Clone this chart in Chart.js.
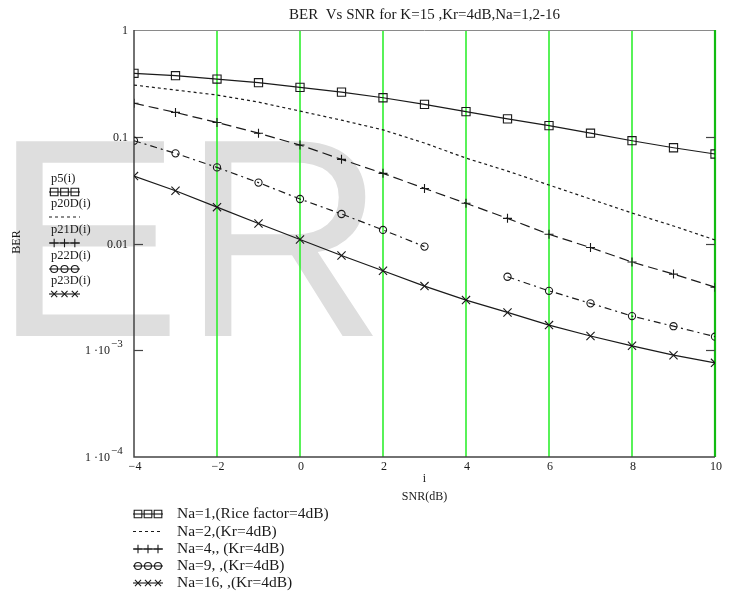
<!DOCTYPE html>
<html><head><meta charset="utf-8">
<script src="https://cdn.jsdelivr.net/npm/chart.js@4.4.1/dist/chart.umd.min.js"></script>
<style>html,body{margin:0;padding:0;background:#fff}canvas{display:block}</style>
</head><body>
<canvas id="c" width="732" height="592"></canvas>
<script>
// ---- data ----
const snr = [-4, -3, -2, -1, 0, 1, 2, 3, 4, 5, 6, 7, 8, 9, 10];
const berNa1  = [0.393, 0.373, 0.347, 0.321, 0.290, 0.262, 0.232, 0.201, 0.172, 0.147, 0.127, 0.108, 0.0918, 0.0789, 0.0689];
const berNa2  = [0.305, 0.274, 0.246, 0.211, 0.174, 0.143, 0.116, 0.0873, 0.0631, 0.0477, 0.0353, 0.0261, 0.0193, 0.0146, 0.0108];
const berNa4  = [0.206, 0.169, 0.136, 0.108, 0.0836, 0.0614, 0.0454, 0.0328, 0.0238, 0.0172, 0.0122, 0.00916, 0.00670, 0.00517, 0.00390];
const berNa9  = [0.0918, 0.0699, 0.0516, 0.0372, 0.0261, 0.0189, 0.0134, 0.00935, null, 0.00488, 0.00360, 0.00275, 0.00209, 0.00168, 0.00134];
const berNa16 = [0.0428, 0.0312, 0.0219, 0.0154, 0.0109, 0.00773, 0.00555, 0.00399, 0.00295, 0.00226, 0.00172, 0.00136, 0.00110, 0.000899, 0.000762];

const xTickValues = [-4, -2, 0, 2, 4, 6, 8, 10];
const xTickLabels = ['\u22124', '\u22122', '0', '2', '4', '6', '8', '10'];
const yTickValues = [1, 0.1, 0.01, 0.001, 0.0001];
const yTickLabels = [['1', ''], ['0.1', ''], ['0.01', ''], ['1 \u00b710', '\u22123'], ['1 \u00b710', '\u22124']];
const legendNames = ['Na=1,(Rice factor=4dB)', 'Na=2,(Kr=4dB)', 'Na=4,, (Kr=4dB)', 'Na=9, ,(Kr=4dB)', 'Na=16, ,(Kr=4dB)'];
const innerLegendNames = ['p5(i)', 'p20D(i)', 'p21D(i)', 'p22D(i)', 'p23D(i)'];
const titleText = 'BER  Vs SNR for K=15 ,Kr=4dB,Na=1,2-16';
const xTitle = 'SNR(dB)';
const xIndexLabel = 'i';
const yTitle = 'BER';
const watermark = 'ER';

// ---- styles ----
const LINE = '#1a1a1a';
const SERIF = '"Liberation Serif", "Times New Roman", serif';
const styles = [
  {dash: [], point: 'rect', r: 5.8},
  {dash: [3, 3], point: false, r: 0},
  {dash: [10, 5], point: 'cross', r: 4.5},
  {dash: [7, 4, 2, 4], point: 'circle', r: 3.6},
  {dash: [], point: 'crossRot', r: 5.8}
];
const series = [berNa1, berNa2, berNa4, berNa9, berNa16];

const datasets = series.map((arr, k) => ({
  label: legendNames[k],
  data: snr.map((x, i) => ({x: x, y: arr[i]})),
  borderColor: LINE,
  borderWidth: 1.2,
  borderDash: styles[k].dash,
  pointStyle: styles[k].point || 'circle',
  pointRadius: styles[k].point ? styles[k].r : 0,
  pointHoverRadius: styles[k].point ? styles[k].r : 0,
  pointBorderColor: LINE,
  pointBackgroundColor: 'rgba(0,0,0,0)',
  pointBorderWidth: 1.1,
  tension: 0,
  spanGaps: false,
  fill: false
}));

function drawSym(ctx, style, x, y, r) {
  ctx.save();
  ctx.setLineDash([]);
  ctx.strokeStyle = LINE;
  ctx.lineWidth = 1.1;
  ctx.beginPath();
  if (style === 'rect') {
    const s = Math.SQRT1_2 * r;
    ctx.rect(x - s, y - s, 2 * s, 2 * s);
  } else if (style === 'circle') {
    ctx.arc(x, y, r, 0, Math.PI * 2);
  } else if (style === 'cross') {
    ctx.moveTo(x - r, y); ctx.lineTo(x + r, y);
    ctx.moveTo(x, y - r); ctx.lineTo(x, y + r);
  } else if (style === 'crossRot') {
    const s = Math.SQRT1_2 * r;
    ctx.moveTo(x - s, y - s); ctx.lineTo(x + s, y + s);
    ctx.moveTo(x - s, y + s); ctx.lineTo(x + s, y - s);
  }
  ctx.stroke();
  ctx.restore();
}

function drawLegendSample(ctx, k, x0, x1, y) {
  ctx.save();
  ctx.strokeStyle = LINE;
  ctx.lineWidth = 1.1;
  ctx.setLineDash(styles[k].point ? [] : styles[k].dash);
  ctx.beginPath(); ctx.moveTo(x0, y); ctx.lineTo(x1, y); ctx.stroke();
  ctx.restore();
  if (styles[k].point) {
    const step = (x1 - x0) / 3;
    for (let j = 0; j < 3; j++) drawSym(ctx, styles[k].point, x0 + step * (j + 0.5), y, k === 0 ? 5.4 : (k === 3 ? 3.5 : 4.3));
  }
}

const decor = {
  id: 'decor',
  beforeDatasetsDraw(chart) {
    const ctx = chart.ctx;
    const a = chart.chartArea;
    const xs = chart.scales.x, ys = chart.scales.y;
    ctx.save();
    // watermark
    ctx.font = '283px "Liberation Sans", Arial, sans-serif';
    ctx.fillStyle = '#dedede';
    ctx.textBaseline = 'alphabetic';
    ctx.textAlign = 'left';
    ctx.fillText(watermark, -7, 336);
    // green grid lines
    ctx.strokeStyle = '#2fef2f';
    ctx.lineWidth = 1.6;
    xTickValues.forEach(v => {
      if (v === -4 || v === 10) return;
      const px = xs.getPixelForValue(v);
      ctx.beginPath(); ctx.moveTo(px, a.top); ctx.lineTo(px, a.bottom); ctx.stroke();
    });
    // top border
    ctx.lineWidth = 1;
    ctx.strokeStyle = '#8a8a8a';
    ctx.beginPath(); ctx.moveTo(a.left, a.top + 0.5); ctx.lineTo(a.right, a.top + 0.5); ctx.stroke();
    // right border (green, thick)
    ctx.strokeStyle = '#11bb11';
    ctx.lineWidth = 2.2;
    ctx.beginPath(); ctx.moveTo(a.right, a.top); ctx.lineTo(a.right, a.bottom); ctx.stroke();
    // left & bottom axes
    ctx.strokeStyle = '#444';
    ctx.lineWidth = 1.5;
    ctx.beginPath(); ctx.moveTo(a.left, a.top); ctx.lineTo(a.left, a.bottom); ctx.lineTo(a.right, a.bottom); ctx.stroke();
    // y ticks (inside, both sides)
    ctx.lineWidth = 1.2;
    [0.1, 0.01, 0.001].forEach(v => {
      const py = Math.round(ys.getPixelForValue(v)) + 0.5;
      ctx.beginPath(); ctx.moveTo(a.left, py); ctx.lineTo(a.left + 9, py); ctx.stroke();
      ctx.beginPath(); ctx.moveTo(a.right - 9, py); ctx.lineTo(a.right, py); ctx.stroke();
    });
    ctx.restore();
  },
  afterDraw(chart) {
    const ctx = chart.ctx;
    const a = chart.chartArea;
    const xs = chart.scales.x, ys = chart.scales.y;
    ctx.save();
    ctx.fillStyle = '#1a1a1a';
    ctx.textBaseline = 'middle';
    // title
    ctx.font = '15px ' + SERIF;
    ctx.textAlign = 'center';
    ctx.fillText(titleText, (a.left + a.right) / 2, 15);
    // y tick labels
    yTickValues.forEach((v, i) => {
      const py = ys.getPixelForValue(v);
      const [main, sup] = yTickLabels[i];
      ctx.font = '12px ' + SERIF;
      if (!sup) {
        ctx.textAlign = 'right';
        ctx.fillText(main, 128, py + 1);
      } else {
        ctx.textAlign = 'right';
        ctx.fillText(main, 110, py + 1);
        ctx.textAlign = 'left';
        ctx.font = '11px ' + SERIF;
        ctx.fillText(sup, 111, py - 6);
      }
    });
    // x tick labels
    ctx.font = '12px ' + SERIF;
    ctx.textAlign = 'center';
    xTickValues.forEach((v, i) => {
      ctx.fillText(xTickLabels[i], xs.getPixelForValue(v) + 1, 467);
    });
    // axis titles
    ctx.font = '12px ' + SERIF;
    ctx.fillText(xIndexLabel, (a.left + a.right) / 2, 479);
    ctx.fillText(xTitle, (a.left + a.right) / 2, 497);
    ctx.save();
    ctx.translate(17, 242);
    ctx.rotate(-Math.PI / 2);
    ctx.fillText(yTitle, 0, 0);
    ctx.restore();
    // inner (Mathcad trace) legend
    ctx.font = '12.5px ' + SERIF;
    ctx.textAlign = 'left';
    const innerY = [179, 204, 230, 256, 281];
    innerLegendNames.forEach((n, k) => {
      ctx.fillStyle = '#1a1a1a';
      ctx.fillText(n, 51, innerY[k]);
      drawLegendSample(ctx, k, 49, 80, innerY[k] + 13);
    });
    // bottom legend
    ctx.font = '15.5px ' + SERIF;
    const botY = [514, 531.5, 549, 566, 583];
    legendNames.forEach((n, k) => {
      ctx.fillStyle = '#1a1a1a';
      ctx.fillText(n, 177, botY[k]);
      drawLegendSample(ctx, k, 133, 163, botY[k]);
    });
    ctx.restore();
  }
};

new Chart(document.getElementById('c'), {
  type: 'line',
  data: {datasets: datasets},
  options: {
    responsive: false,
    animation: false,
    devicePixelRatio: 1,
    layout: {padding: {left: 134, top: 30, right: 17, bottom: 135}},
    scales: {
      x: {type: 'linear', min: -4, max: 10, display: false},
      y: {type: 'logarithmic', min: 0.0001, max: 1, display: false}
    },
    plugins: {legend: {display: false}, tooltip: {enabled: false}, title: {display: false}},
    events: []
  },
  plugins: [decor]
});
</script>
</body></html>
